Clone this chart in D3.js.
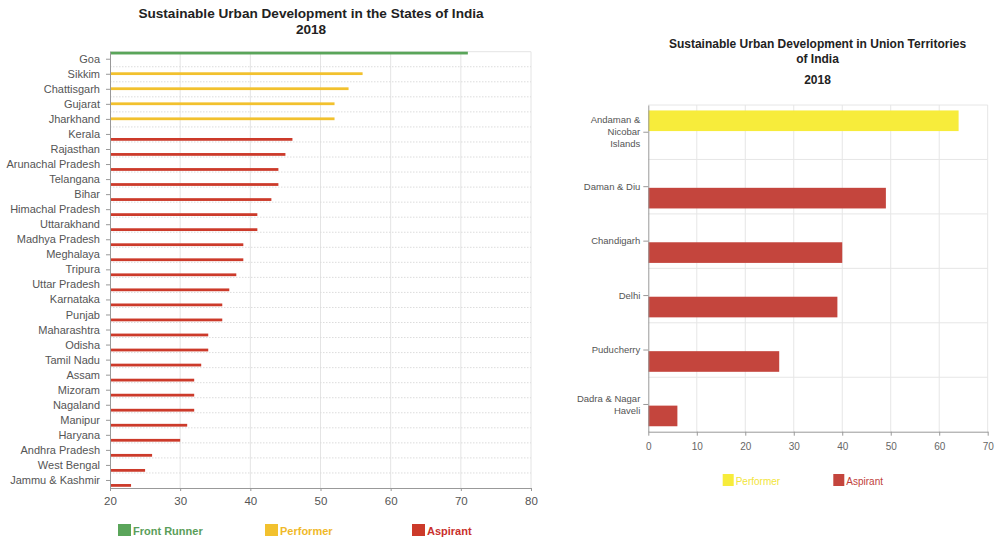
<!DOCTYPE html>
<html>
<head>
<meta charset="utf-8">
<script src="https://cdn.jsdelivr.net/npm/d3@7"></script>
<style>
  html, body { margin: 0; padding: 0; background: #fff; }
  svg { display: block; font-family: "Liberation Sans", Arial, sans-serif; }
</style>
</head>
<body>
<svg id="chart" width="997" height="537"></svg>
<script>
// ---------- DATA ----------
const seriesNames = ["Front Runner", "Performer", "Aspirant"];
const seriesColors = ["#5aa55a", "#f2c12e", "#cc3a2a"];
const legendTextColors = ["#5a9e5a", "#f0b92a", "#c9302c"];

const states = ["Goa", "Sikkim", "Chattisgarh", "Gujarat", "Jharkhand", "Kerala", "Rajasthan",
  "Arunachal Pradesh", "Telangana", "Bihar", "Himachal Pradesh", "Uttarakhand", "Madhya Pradesh",
  "Meghalaya", "Tripura", "Uttar Pradesh", "Karnataka", "Punjab", "Maharashtra", "Odisha",
  "Tamil Nadu", "Assam", "Mizoram", "Nagaland", "Manipur", "Haryana", "Andhra Pradesh",
  "West Bengal", "Jammu & Kashmir"];
const stateScores = [71, 56, 54, 52, 52, 46, 45, 44, 44, 43, 41, 41, 39, 39, 38, 37, 36, 36,
  34, 34, 33, 32, 32, 32, 31, 30, 26, 25, 23];
const stateGroups = ["Front Runner", "Performer", "Performer", "Performer", "Performer",
  "Aspirant", "Aspirant", "Aspirant", "Aspirant", "Aspirant", "Aspirant", "Aspirant", "Aspirant",
  "Aspirant", "Aspirant", "Aspirant", "Aspirant", "Aspirant", "Aspirant", "Aspirant", "Aspirant",
  "Aspirant", "Aspirant", "Aspirant", "Aspirant", "Aspirant", "Aspirant", "Aspirant", "Aspirant"];
const stateTicks = [20, 30, 40, 50, 60, 70, 80];

const utSeries = ["Performer", "Aspirant"];
const utColors = ["#f7ec3b", "#c4453d"];
const utLegendTextColors = ["#f2e43a", "#c0403a"];
const territories = ["Andaman & Nicobar Islands", "Daman & Diu", "Chandigarh", "Delhi",
  "Puducherry", "Dadra & Nagar Haveli"];
const utScores = [64, 49, 40, 39, 27, 6];
const utGroups = ["Performer", "Aspirant", "Aspirant", "Aspirant", "Aspirant", "Aspirant"];
const utTicks = [0, 10, 20, 30, 40, 50, 60, 70];

// ---------- LEFT CHART ----------
const svg = d3.select("#chart");

(function left() {
  const L = { left: 110, right: 531, top: 51.7, bottom: 488 };
  const x = d3.scaleLinear().domain([20, 80]).range([L.left, L.right]);
  const y = d3.scaleBand().domain(states).range([L.top, L.bottom]).padding(0);
  const ys = d3.scaleBand().domain(seriesNames).range([0, y.bandwidth() * 0.92]).paddingInner(0.5).paddingOuter(0);
  const color = d3.scaleOrdinal().domain(seriesNames).range(seriesColors);

  const g = svg.append("g");

  // title
  g.append("text").attr("x", 311).attr("y", 18).attr("text-anchor", "middle")
    .attr("font-size", "13.6px").attr("font-weight", "bold").attr("fill", "#222")
    .text("Sustainable Urban Development in the States of India");
  g.append("text").attr("x", 311).attr("y", 34).attr("text-anchor", "middle")
    .attr("font-size", "13.6px").attr("font-weight", "bold").attr("fill", "#222")
    .text("2018");

  // vertical grid
  g.selectAll(".vg").data(stateTicks.slice(1)).enter().append("line")
    .attr("x1", d => x(d)).attr("x2", d => x(d))
    .attr("y1", L.top).attr("y2", L.bottom)
    .attr("stroke", "#e4e4e4").attr("stroke-width", 1);
  // horizontal grid (dotted) at band boundaries
  g.selectAll(".hg").data(states).enter().append("line")
    .attr("x1", L.left).attr("x2", L.right)
    .attr("y1", d => y(d)).attr("y2", d => y(d))
    .attr("stroke", (d, i) => i === 0 ? "#e4e4e4" : "#dcdcdc")
    .attr("stroke-dasharray", (d, i) => i === 0 ? null : "1.5,1.5")
    .attr("stroke-width", 1);

  // bars
  g.selectAll(".bar").data(states).enter().append("rect")
    .attr("x", x(20))
    .attr("y", (d, i) => y(d) + ys(stateGroups[i]))
    .attr("width", (d, i) => x(stateScores[i]) - x(20))
    .attr("height", ys.bandwidth())
    .attr("fill", (d, i) => color(stateGroups[i]));

  // axes
  const ax = d3.axisBottom(x).tickValues(stateTicks).tickSize(3).tickPadding(6).tickSizeOuter(0);
  const axg = g.append("g").attr("transform", `translate(0,${L.bottom})`).call(ax);
  axg.select(".domain").attr("stroke", "#999");
  axg.selectAll(".tick line").attr("stroke", "#999");
  axg.selectAll("text").attr("font-size", "11.5px").attr("fill", "#555").attr("font-family", null);

  const ay = d3.axisLeft(y).tickSize(4).tickPadding(6).tickSizeOuter(0);
  const ayg = g.append("g").attr("transform", `translate(${L.left},0)`).call(ay);
  ayg.select(".domain").attr("stroke", "#999");
  ayg.selectAll(".tick line").attr("stroke", "#999");
  ayg.selectAll("text").attr("font-size", "11px").attr("fill", "#555").attr("font-family", null);

  // legend
  const legX = [118, 265, 412];
  const lg = g.selectAll(".leg").data(seriesNames).enter().append("g")
    .attr("transform", (d, i) => `translate(${legX[i]},524)`);
  lg.append("rect").attr("width", 13).attr("height", 12).attr("fill", d => color(d));
  lg.append("text").attr("x", 15).attr("y", 10.5).attr("font-size", "11px").attr("font-weight", "bold")
    .attr("fill", (d, i) => legendTextColors[i]).text(d => d);
})();

// ---------- RIGHT CHART ----------
(function right() {
  const R = { left: 648.3, right: 987.7, top: 105, bottom: 431.7 };
  const x = d3.scaleLinear().domain([0, 70]).range([R.left, R.right]);
  const y = d3.scaleBand().domain(territories).range([R.top, R.bottom]).paddingInner(0.2).paddingOuter(0.1);
  const ys = d3.scaleBand().domain(utSeries).range([0, y.bandwidth()]).paddingInner(0.1);
  const color = d3.scaleOrdinal().domain(utSeries).range(utColors);

  const g = svg.append("g");

  const cx = 817.5;
  [["Sustainable Urban Development in Union Territories", 47.5], ["of India", 62.5], ["2018", 83.5]]
    .forEach(([t, yy]) => {
      g.append("text").attr("x", cx).attr("y", yy).attr("text-anchor", "middle")
        .attr("font-size", "12px").attr("font-weight", "bold").attr("fill", "#222").text(t);
    });

  // grid
  g.selectAll(".vg").data(utTicks.slice(1)).enter().append("line")
    .attr("x1", d => x(d)).attr("x2", d => x(d))
    .attr("y1", R.top).attr("y2", R.bottom)
    .attr("stroke", "#e6e6e6");
  g.selectAll(".hg").data(territories).enter().append("line")
    .attr("x1", R.left).attr("x2", R.right)
    .attr("y1", (d, i) => R.top + i * y.step()).attr("y2", (d, i) => R.top + i * y.step())
    .attr("stroke", "#e6e6e6");

  // bars
  g.selectAll(".bar").data(territories).enter().append("rect")
    .attr("x", x(0))
    .attr("y", (d, i) => y(d) + ys(utGroups[i]))
    .attr("width", (d, i) => x(utScores[i]) - x(0))
    .attr("height", ys.bandwidth())
    .attr("fill", (d, i) => color(utGroups[i]));

  // axes
  const ax = d3.axisBottom(x).tickValues(utTicks).tickSize(4).tickPadding(7).tickSizeOuter(0);
  const axg = g.append("g").attr("transform", `translate(0,${R.bottom})`).call(ax);
  axg.select(".domain").attr("stroke", "#999");
  axg.selectAll(".tick line").attr("stroke", "#999");
  axg.selectAll("text").attr("font-size", "10px").attr("fill", "#666").attr("font-family", null);

  const ay = d3.axisLeft(y).tickSize(5).tickPadding(3).tickSizeOuter(0);
  const ayg = g.append("g").attr("transform", `translate(${R.left},0)`).call(ay);
  ayg.select(".domain").attr("stroke", "#999");
  ayg.selectAll(".tick line").attr("stroke", "#999");
  ayg.selectAll("text").attr("font-size", "9.5px").attr("fill", "#555").attr("font-family", null)
    .each(function () {
      const t = d3.select(this);
      const words = t.text().split(/\s+/);
      const lines = [];
      let cur = [];
      t.text(null);
      const probe = t.append("tspan");
      words.forEach(w => {
        const test = cur.concat([w]).join(" ");
        probe.text(test);
        if (probe.node().getComputedTextLength() > 64.5 && cur.length) {
          lines.push(cur.join(" "));
          cur = [w];
        } else cur.push(w);
      });
      lines.push(cur.join(" "));
      probe.remove();
      const lh = 12;
      const off = -(lines.length - 1) * lh / 2;
      t.attr("dy", null);
      lines.forEach((ln, k) => {
        t.append("tspan").attr("x", -8).attr("y", off + k * lh).attr("dy", "0.32em").text(ln);
      });
    });

  // legend
  const legX = [722.7, 833.3];
  const lg = g.selectAll(".leg").data(utSeries).enter().append("g")
    .attr("transform", (d, i) => `translate(${legX[i]},474)`);
  lg.append("rect").attr("width", 11).attr("height", 12).attr("fill", d => color(d));
  lg.append("text").attr("x", 13).attr("y", 10.5).attr("font-size", "10px")
    .attr("fill", (d, i) => utLegendTextColors[i]).text(d => d);
})();
</script>
</body>
</html>
